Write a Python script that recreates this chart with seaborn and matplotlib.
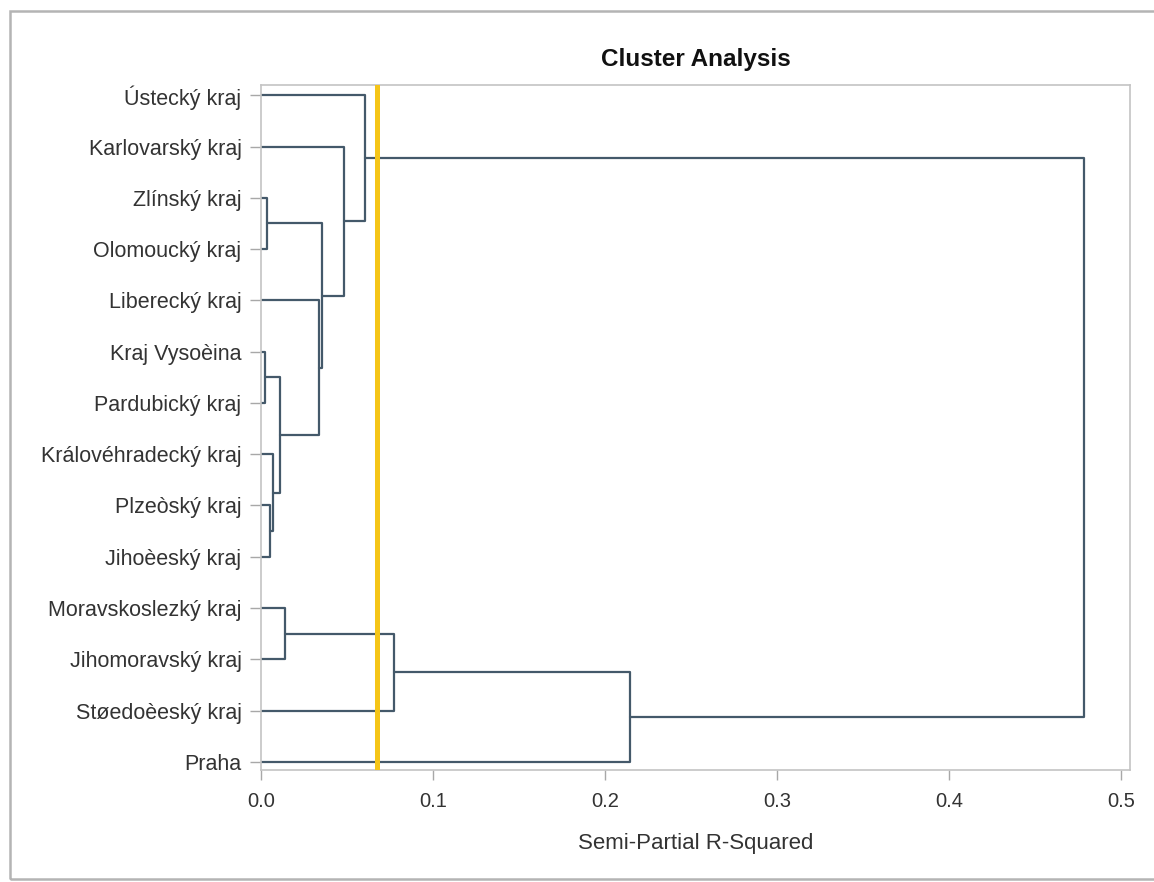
import pandas as pd
import seaborn as sns
import matplotlib
matplotlib.use("Agg")
import matplotlib.pyplot as plt
from matplotlib.patches import Rectangle

# Leaves, top to bottom
leaves = ["Ústecký kraj", "Karlovarský kraj", "Zlínský kraj", "Olomoucký kraj",
          "Liberecký kraj", "Kraj Vysoèina", "Pardubický kraj",
          "Královéhradecký kraj", "Plzeòský kraj", "Jihoèeský kraj",
          "Moravskoslezký kraj", "Jihomoravský kraj", "Støedoèeský kraj", "Praha"]

# Merges: node ids 0..13 are leaves, new clusters get 14, 15, ...
merge_left = [5, 2, 8, 7, 14, 10, 4, 15, 1, 0, 19, 24, 23]
merge_right = [6, 3, 9, 16, 17, 11, 18, 20, 21, 22, 12, 13, 25]
merge_height = [0.0023, 0.0033, 0.005, 0.007, 0.011, 0.0139, 0.0336,
                0.0357, 0.048, 0.0607, 0.0771, 0.2146, 0.4785]

cutoff = 0.0673

# Build U-shaped links
node_y = {i: float(i) for i in range(len(leaves))}
node_h = {i: 0.0 for i in range(len(leaves))}
rows = []
for k, (a, b, h) in enumerate(zip(merge_left, merge_right, merge_height)):
    nid = len(leaves) + k
    pts = [(node_h[a], node_y[a]), (h, node_y[a]), (h, node_y[b]), (node_h[b], node_y[b])]
    for x, y in pts:
        rows.append({"link": k, "x": x, "y": y})
    node_y[nid] = (node_y[a] + node_y[b]) / 2
    node_h[nid] = h
df = pd.DataFrame(rows)

sns.set_theme(style="white")
plt.rcParams["font.family"] = ["Liberation Sans", "DejaVu Sans"]

fig = plt.figure(figsize=(11.54, 8.82), dpi=100)
ax = fig.add_axes([0.2262, 0.127, 0.753, 0.7766])

sns.lineplot(data=df, x="x", y="y", units="link", estimator=None, sort=False,
             color="#44596a", linewidth=1.6, ax=ax, legend=False)
ax.axvline(cutoff, color="#f5c518", linewidth=3.6, zorder=3)

ax.set_xlim(0, 0.5052)
ax.set_ylim(len(leaves) - 1 + 0.16, -0.2)
ax.set_yticks(range(len(leaves)))
ax.set_yticklabels(leaves)
ax.set_xticks([0.0, 0.1, 0.2, 0.3, 0.4, 0.5])
ax.set_xticklabels(["0.0", "0.1", "0.2", "0.3", "0.4", "0.5"])
ax.tick_params(axis="both", which="major", direction="out", bottom=True, left=True,
               width=1, color="#a8a8a8", labelcolor="#333333")
ax.tick_params(axis="y", length=8, pad=6, labelsize=15.5)
ax.tick_params(axis="x", length=7, pad=9, labelsize=14.5)
for s in ax.spines.values():
    s.set_color("#c4c4c4")
    s.set_linewidth(1.2)

ax.set_ylabel("")
ax.set_xlabel("Semi-Partial R-Squared", fontsize=16, color="#333333", labelpad=16)
ax.set_title("Cluster Analysis", fontsize=17.5, fontweight="bold", color="#111111", pad=14)

# outer frame of the screenshot
fig.patches.append(Rectangle((0.0087, 0.0034), 1.2, 0.984, transform=fig.transFigure,
                             fill=False, edgecolor="#b4b4b4", linewidth=1.8))

fig.savefig("out.png", dpi=100)
